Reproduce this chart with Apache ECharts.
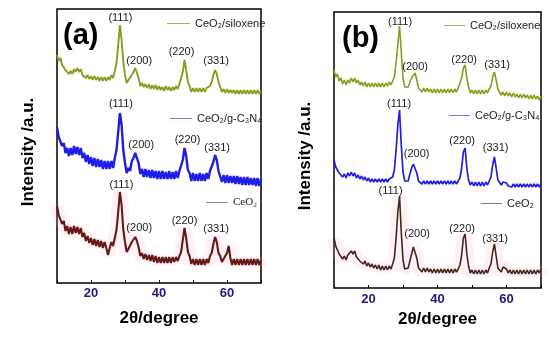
<!DOCTYPE html>
<html><head><meta charset="utf-8">
<script src="https://cdn.jsdelivr.net/npm/echarts@6/dist/echarts.min.js"></script>
<style>html,body{margin:0;padding:0;background:#fff}#c{width:550px;height:337px}</style>
</head><body><div id="c"></div>
<script>
// 2θ sampling positions (degrees)
const twoTheta = [10,10.5,11,11.5,12,12.5,13,13.5,14,14.5,15,15.5,16,16.5,17,17.5,18,18.5,19,19.5,
20,20.5,21,21.5,22,22.5,23,23.5,24,24.5,25,25.5,26,26.5,27,27.5,28,28.5,29,29.5,
30,30.5,31,31.5,32,32.5,33,33.5,34,34.5,35,35.5,36,36.5,37,37.5,38,38.5,39,39.5,
40,40.5,41,41.5,42,42.5,43,43.5,44,44.5,45,45.5,46,46.5,47,47.5,48,48.5,49,49.5,
50,50.5,51,51.5,52,52.5,53,53.5,54,54.5,55,55.5,56,56.5,57,57.5,58,58.5,59,59.5,
60,60.5,61,61.5,62,62.5,63,63.5,64,64.5,65,65.5,66,66.5,67,67.5,68,68.5,69,69.5,70];

// Panel (a) intensities (a.u., stacked offsets)
const siloxeneA = [228,222,225,218,219,213,215,209,212,209,
214,211,215,211,214,208,210,205,208,204,
207,203,207,203,206,202,206,202,206,202,
206,203,208,205,212,220,238,258,243,221,
208,200,203,201,208,211,215,210,205,197,
200,196,199,195,199,194,198,194,198,193,
197,193,196,192,197,193,196,192,196,193,
197,194,199,201,211,223,213,201,197,191,
195,191,195,191,195,191,195,191,195,193,
197,201,208,213,209,201,196,191,194,190,
194,190,193,190,193,189,193,189,193,189,
193,189,193,189,193,189,193,189,193,189,192];
const gc3n4A = [156,146,148,137,140,130,135,127,135,128,
137,129,136,128,135,125,130,121,128,119,
126,117,125,116,124,116,123,114,122,114,
122,114,122,115,125,133,151,170,158,133,
120,110,115,112,122,125,130,125,120,109,
114,106,114,106,113,105,113,105,112,104,
112,104,112,104,111,104,112,104,111,104,
112,105,112,112,123,135,127,113,110,102,
110,102,109,102,110,102,109,102,110,104,
112,112,121,128,123,112,110,101,108,100,
108,100,107,100,107,99,107,99,106,98,
106,98,106,98,105,98,105,97,105,97,104];
const ceo2A = [77,68,70,59,62,52,57,49,56,49,
57,50,56,49,55,46,50,42,47,40,
45,38,44,37,43,36,42,35,41,35,
28,35,41,37,45,53,71,91,78,53,
41,31,34,33,41,43,46,42,36,27,
30,24,29,23,28,22,28,21,27,20,
26,20,26,20,26,20,26,20,26,21,
26,22,27,31,43,55,45,31,27,19,
24,18,24,18,24,18,24,18,24,20,
27,30,39,46,41,30,27,21,24,24,
30,37,25,18,24,18,24,18,24,18,
24,18,24,18,24,18,24,18,24,18,23];

// Panel (b) intensities
const siloxeneB = [218,211,214,207,210,204,208,203,208,205,
210,206,210,205,208,203,206,202,206,201,
205,201,205,201,205,201,205,201,205,201,
205,202,206,203,207,211,226,243,262,236,
210,201,202,201,206,210,212,215,208,200,
201,196,200,196,200,196,199,195,199,195,
199,195,199,195,199,195,199,195,199,195,
199,196,200,201,210,220,223,210,201,195,
198,194,198,194,198,194,198,194,198,195,
199,202,211,216,208,199,197,193,196,192,
196,192,195,191,195,191,194,190,194,190,
194,190,193,189,193,189,193,189,192,188,192];
const gc3n4B = [128,121,122,115,117,111,114,110,115,112,
116,112,115,110,113,109,112,108,111,107,
110,106,109,106,109,106,109,106,109,106,
109,106,109,107,111,118,138,163,178,143,
116,107,108,107,114,120,124,125,115,107,
107,104,107,104,107,104,107,104,107,104,
107,104,107,104,107,104,107,104,107,104,
107,104,107,110,120,136,140,120,108,103,
106,102,106,102,106,102,106,102,106,103,
107,111,123,131,120,108,106,103,106,106,
105,102,104,101,104,101,104,101,104,101,
104,101,104,101,104,101,104,101,104,101,104];
const ceo2B = [50,42,42,34,35,29,32,28,33,31,
37,34,37,31,33,27,29,24,27,22,
25,21,24,20,23,19,23,18,22,18,
22,18,22,19,24,30,50,76,92,56,
28,19,20,20,27,34,41,43,30,20,
21,16,20,16,20,16,19,15,19,15,
19,15,19,15,19,15,19,15,19,15,
19,16,19,23,33,50,54,34,22,15,
18,14,18,14,18,14,18,14,18,15,
20,24,36,44,32,20,19,16,21,19,
19,15,18,14,18,14,18,14,18,14,
18,14,18,14,18,14,18,14,18,15,19];

const xTickLabels = [20, 40, 60];
const hklLabels = ['(111)', '(200)', '(220)', '(331)'];
const peakAnglesA = [28.5, 33, 47.5, 56.5];
const peakAnglesB = [29, 33.5, 48, 56.5];
const sampleNames = ['CeO₂/siloxene', 'CeO₂/g-C₃N₄', 'CeO₂'];

// ---- styling / layout (not data) ----
const FF = 'Liberation Sans, Arial, sans-serif';
const SERIF = 'Liberation Serif, Times New Roman, serif';
const colors = { sil: '#8c9b1c', gcn: '#1e1ee6', ceoA: '#641a12', ceoB: '#46261a' };
const labelOffsA = [
  [[0.5,-7],[4,-7],[-3,-8],[1,-9]],
  [[1,-9],[6,-8],[3,-8.5],[2,-7.5]],
  [[1.5,-7.5],[4,-9],[0,-7.5],[1,-8]]
];
const labelOffsB = [
  [[0.5,-4],[0,-6.5],[-1,-5],[2.7,-7]],
  [[-0.5,-6],[1.6,-9],[-3,-7],[1.2,-9]],
  [[-9,-5],[2,-11],[-3,-5.5],[0.7,-5.5]]
];

function valueAt(arr, ang) { return arr[twoTheta.indexOf(ang)]; }
function pairs(arr) { return twoTheta.map((x, i) => [x, arr[i]]); }

function peakMarks(arr, angles, offs) {
  return {
    symbol: 'circle', symbolSize: 1, silent: true,
    itemStyle: { color: 'rgba(0,0,0,0)' },
    label: { show: true, position: 'inside', color: '#222', fontSize: 11, fontFamily: FF,
             formatter: p => p.name },
    data: hklLabels.map((h, i) => ({ name: h, coord: [angles[i], valueAt(arr, angles[i])],
            label: { offset: offs[i] } }))
  };
}

function lineSeries(name, arr, gi, color, width, angles, offs, z) {
  return { name, type: 'line', xAxisIndex: gi, yAxisIndex: gi, data: pairs(arr),
    symbol: 'none', showSymbol: false, z: z || 3,
    lineStyle: { color, width }, itemStyle: { color },
    markPoint: angles ? peakMarks(arr, angles, offs) : undefined };
}

function xAx(gi, margin, nameGap) {
  return { type: 'value', gridIndex: gi, min: 10, max: 70, interval: 10,
    axisLine: { show: false },
    axisTick: { show: true, inside: true, length: 3, lineStyle: { color: '#000', width: 1 } },
    axisLabel: { margin, color: '#1c1c80', fontWeight: 'bold', fontSize: 13, fontFamily: FF,
      formatter: v => xTickLabels.includes(v) ? String(v) : '' },
    splitLine: { show: false },
    name: '2θ/degree', nameLocation: 'middle', nameGap,
    nameTextStyle: { fontSize: 17, fontWeight: 'bold', color: '#000', fontFamily: FF } };
}
function yAx(gi, max, nameGap) {
  return { type: 'value', gridIndex: gi, min: 0, max,
    axisLine: { show: false }, axisTick: { show: false }, axisLabel: { show: false },
    splitLine: { show: false },
    name: 'Intensity /a.u.', nameLocation: 'middle', nameGap,
    nameTextStyle: { fontSize: 17, fontWeight: 'bold', color: '#000', fontFamily: FF, padding: [0, 12, 0, 0] } };
}
function legendAt(name, left, top, w, lineColor, font) {
  return { data: [{ name, icon: 'rect' }], left, top, itemWidth: w, itemHeight: 1, padding: 0, selectedMode: false,
    formatter: n => n.split('|')[0],
    textStyle: { fontSize: 11, color: '#222', fontFamily: font },
    itemStyle: { color: lineColor, borderWidth: 0 } };
}

const nA = sampleNames.map(n => n + '|a');
const nB = sampleNames.map(n => n + '|b');

const option = {
  animation: false,
  backgroundColor: '#fff',
  title: [
    { text: '(a)', left: 63, top: 21, padding: 0, textStyle: { fontSize: 29, fontWeight: 'bold', color: '#000', fontFamily: FF } },
    { text: '(b)', left: 342, top: 24, padding: 0, textStyle: { fontSize: 29, fontWeight: 'bold', color: '#000', fontFamily: FF } }
  ],
  grid: [
    { left: 57, top: 9, width: 204, height: 274, show: true, borderColor: '#000', borderWidth: 1.5, containLabel: false },
    { left: 334, top: 12, width: 207, height: 276, show: true, borderColor: '#000', borderWidth: 1.5, containLabel: false }
  ],
  xAxis: [xAx(0, 4, 27), xAx(1, 5, 22)],
  yAxis: [yAx(0, 274, 20), yAx(1, 276, 20)],
  legend: [
    legendAt(nA[0], 167, 18, 23, '#a6b060', FF),
    legendAt(nA[1], 170, 113, 22, '#7a7ae8', FF),
    legendAt(nA[2], 206, 197, 22, '#8a8a8a', SERIF),
    legendAt(nB[0], 444, 20, 21, '#a6b060', FF),
    legendAt(nB[1], 449, 110, 21, '#7a7ae8', FF),
    legendAt(nB[2], 481, 198, 21, '#8a7a70', FF)
  ],
  series: [
    { name: 'glowA', type: 'line', xAxisIndex: 0, yAxisIndex: 0, data: pairs(ceo2A), symbol: 'none', silent: true, z: 1,
      lineStyle: { color: 'rgba(255,175,205,0.16)', width: 14 } },
    { name: 'glowB', type: 'line', xAxisIndex: 1, yAxisIndex: 1, data: pairs(ceo2B), symbol: 'none', silent: true, z: 1,
      lineStyle: { color: 'rgba(255,175,205,0.16)', width: 14 } },
    lineSeries(nA[0], siloxeneA, 0, colors.sil, 1.9, peakAnglesA, labelOffsA[0]),
    lineSeries(nA[1], gc3n4A, 0, colors.gcn, 2.4, peakAnglesA, labelOffsA[1]),
    lineSeries(nA[2], ceo2A, 0, colors.ceoA, 2.1, peakAnglesA, labelOffsA[2]),
    lineSeries(nB[0], siloxeneB, 1, colors.sil, 1.6, peakAnglesB, labelOffsB[0]),
    lineSeries(nB[1], gc3n4B, 1, colors.gcn, 1.7, peakAnglesB, labelOffsB[1]),
    lineSeries(nB[2], ceo2B, 1, colors.ceoB, 1.6, peakAnglesB, labelOffsB[2])
  ]
};

const chart = echarts.init(document.getElementById('c'), null, { renderer: 'canvas' });
chart.setOption(option);
</script>
</body></html>
